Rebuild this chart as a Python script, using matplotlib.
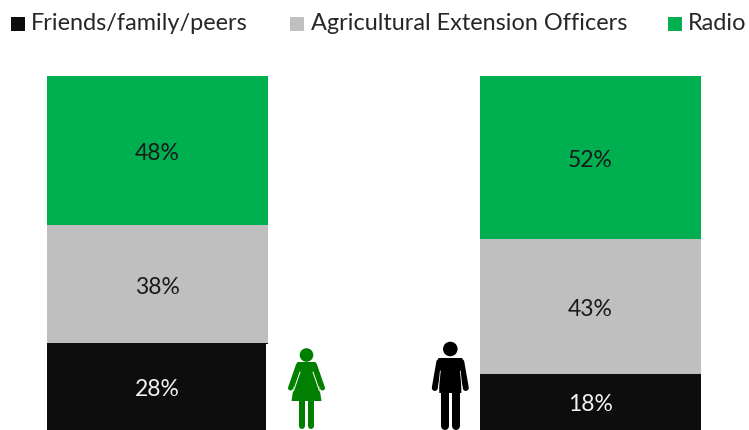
#!/usr/bin/env python3

import matplotlib
matplotlib.use("Agg")
import matplotlib.pyplot as plt
from matplotlib.patches import Circle, Polygon, Rectangle

sources = ["Friends/family/peers", "Agricultural Extension Officers", "Radio"]
friends = [28, 18]
officers = [38, 43]
radio = [48, 52]
colours = ["#0d0d0d", "#bfbfbf", "#00b050"]
textColours = ["#f2f2f2", "#1a1a1a", "#1a1a1a"]

W, H = 749, 430
PX = 72 / 100


def limb(ax, xs, ys, c, width):
    ax.plot(xs, ys, color=c, lw=width * PX, solid_capstyle="round", solid_joinstyle="round")


def drawWoman(ax, cx, c):
    ax.add_patch(Circle((cx, 355), 6.8, color=c, lw=0))
    ax.add_patch(Polygon([(cx-9, 362), (cx+9, 362), (cx+15, 401), (cx-15, 401)], closed=True, color=c, lw=0))
    limb(ax, [cx-8, cx-16], [365, 388], c, 5)
    limb(ax, [cx+8, cx+16], [365, 388], c, 5)
    limb(ax, [cx-6.5, cx-13], [372, 391], "white", 1)
    limb(ax, [cx+6.5, cx+13], [372, 391], "white", 1)
    limb(ax, [cx-4.5, cx-4.5], [400, 426], c, 6)
    limb(ax, [cx+4.5, cx+4.5], [400, 426], c, 6)


def drawMan(ax, cx, c):
    ax.add_patch(Circle((cx, 349), 7.3, color=c, lw=0))
    ax.add_patch(Polygon([(cx-12, 358), (cx+12, 358), (cx+11, 393), (cx-11, 393)], closed=True, color=c, lw=0))
    limb(ax, [cx-11, cx-15.5], [362, 388], c, 6)
    limb(ax, [cx+11, cx+15.5], [362, 388], c, 6)
    limb(ax, [cx-10, cx-12], [371, 391], "white", 0.8)
    limb(ax, [cx+10, cx+12], [371, 391], "white", 0.8)
    limb(ax, [cx-5.5, cx-5.5], [390, 426], c, 8)
    limb(ax, [cx+5.5, cx+5.5], [390, 426], c, 8)


def drawBar(fig, left, vals):
    # each bar fills the same height, from the top edge down to the image bottom
    barAx = fig.add_axes([left / W, 0, 221 / W, (H - 76) / H])
    barAx.set_xlim(0, 1)
    barAx.set_ylim(0, sum(vals))
    barAx.axis("off")
    bottom = 0
    for v, c, tc in zip(vals, colours, textColours):
        barAx.bar(0.5, v, width=1, bottom=bottom, color=c, lw=0)
        barAx.annotate(f"{v}%", (0.5, bottom + v / 2), xytext=(0, -2.2), textcoords="offset points",
                       ha="center", va="center", fontsize=16.5, color=tc)
        bottom += v


def main():
    plt.rcParams["font.family"] = ["Lato", "DejaVu Sans"]
    fig = plt.figure(figsize=(W / 100, H / 100), dpi=100)

    for left, vals in zip([47, 480], zip(friends, officers, radio)):
        drawBar(fig, left, vals)

    ax = fig.add_axes([0, 0, 1, 1])
    ax.set_xlim(0, W)
    ax.set_ylim(H, 0)
    ax.axis("off")
    ax.patch.set_alpha(0)

    # the icon's white background clips the left bar's lower corner
    ax.add_patch(Rectangle((266, 344), 60, 86, color="white", lw=0))

    drawWoman(ax, 306.5, "#007f00")
    drawMan(ax, 450.3, "black")

    # legend
    for lx, tx, s, c in zip([11, 290, 668], [31, 311, 688], sources, colours):
        ax.add_patch(Rectangle((lx, 17), 14, 14, color=c, lw=0))
        ax.text(tx, 23.5, s, ha="left", va="center", fontsize=16.9, color="#262626")

    fig.savefig("out.png", dpi=100)


if __name__ == "__main__":
    main()
